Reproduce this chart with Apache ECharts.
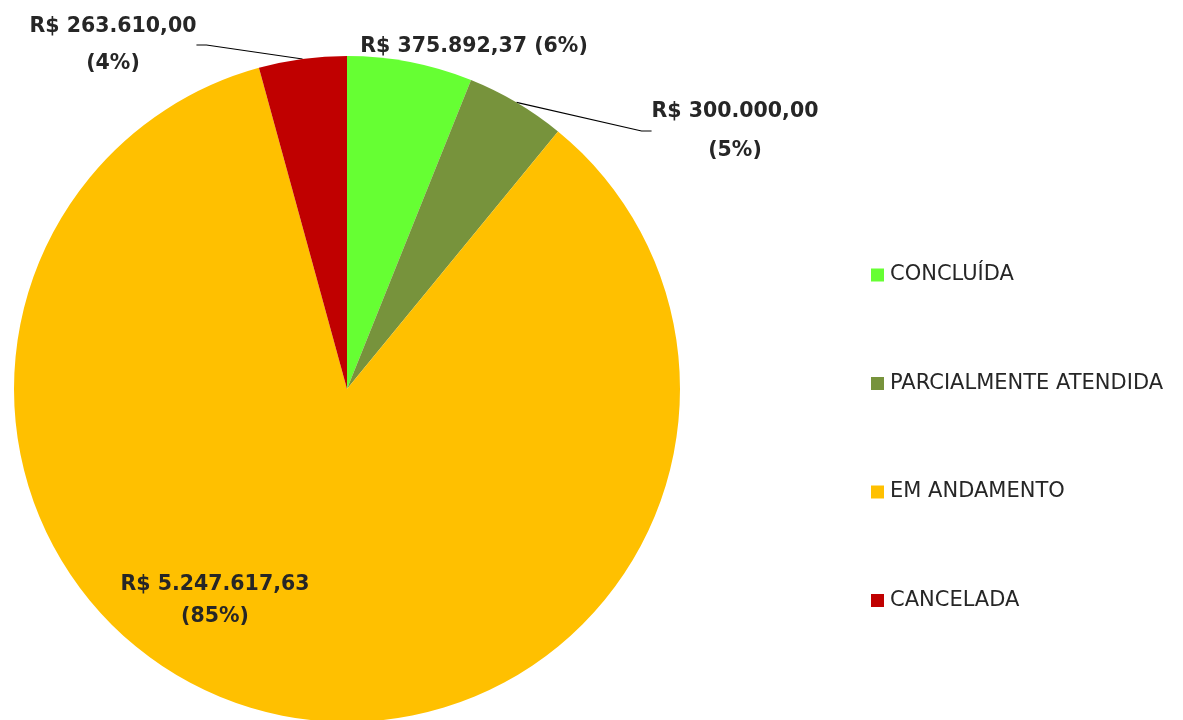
<!DOCTYPE html>
<html>
<head>
<meta charset="utf-8">
<script src="https://cdn.jsdelivr.net/npm/echarts@6/dist/echarts.min.js"></script>
<style>html,body{margin:0;padding:0;background:#fff}#c{width:1183px;height:720px}</style>
</head>
<body>
<div id="c"></div>
<script>
const categories = ['CONCLUÍDA', 'PARCIALMENTE ATENDIDA', 'EM ANDAMENTO', 'CANCELADA'];
const values = [375892.37, 300000.00, 5247617.63, 263610.00];
const valueLabels = ['R$ 375.892,37', 'R$ 300.000,00', 'R$ 5.247.617,63', 'R$ 263.610,00'];
const percentLabels = ['6%', '5%', '85%', '4%'];
const colors = ['#66FF33', '#77933C', '#FFC000', '#C00000'];

const FONT = '"DejaVu Sans", sans-serif';
const labelPos = [
  { x: 474, y: 47 },
  { x: 735, y: 131 },
  { x: 215, y: 601 },
  { x: 113, y: 45 }
];
const lineShow = [false, true, false, true];
const sep = [' ', '\n', '\n', '\n'];

const chart = echarts.init(document.getElementById('c'), null, { renderer: 'canvas' });
chart.setOption({
  animation: false,
  color: colors,
  legend: {
    orient: 'vertical',
    left: 866,
    top: 258,
    itemWidth: 13,
    itemHeight: 13,
    itemGap: 84.5,
    icon: 'rect',
    textStyle: { fontFamily: FONT, fontSize: 21, color: '#262626', lineHeight: 24, padding: [0, 0, 0, 1] },
    data: categories
  },
  series: [{
    type: 'pie',
    center: [347, 389],
    radius: 333,
    startAngle: 90,
    clockwise: true,
    avoidLabelOverlap: false,
    itemStyle: { borderWidth: 0 },
    label: {
      fontFamily: FONT,
      fontSize: 20.5,
      fontWeight: 'bold',
      color: '#262626',
      align: 'center',
      lineHeight: 36
    },
    labelLine: { lineStyle: { color: '#000', width: 1.2 }, length: 10, length2: 10 },
    labelLayout: function (p) {
      const pos = labelPos[p.dataIndex];
      return { x: pos.x, y: pos.y, align: 'center', verticalAlign: 'middle' };
    },
    data: categories.map((c, i) => ({
      name: c,
      value: values[i],
      label: {
        show: true,
        position: i === 2 ? 'inside' : 'outside',
        lineHeight: i === 2 ? 32 : (i === 1 ? 39 : 37),
        formatter: valueLabels[i] + sep[i] + '(' + percentLabels[i] + ')'
      },
      labelLine: { show: lineShow[i] }
    }))
  }]
});
</script>
</body>
</html>
